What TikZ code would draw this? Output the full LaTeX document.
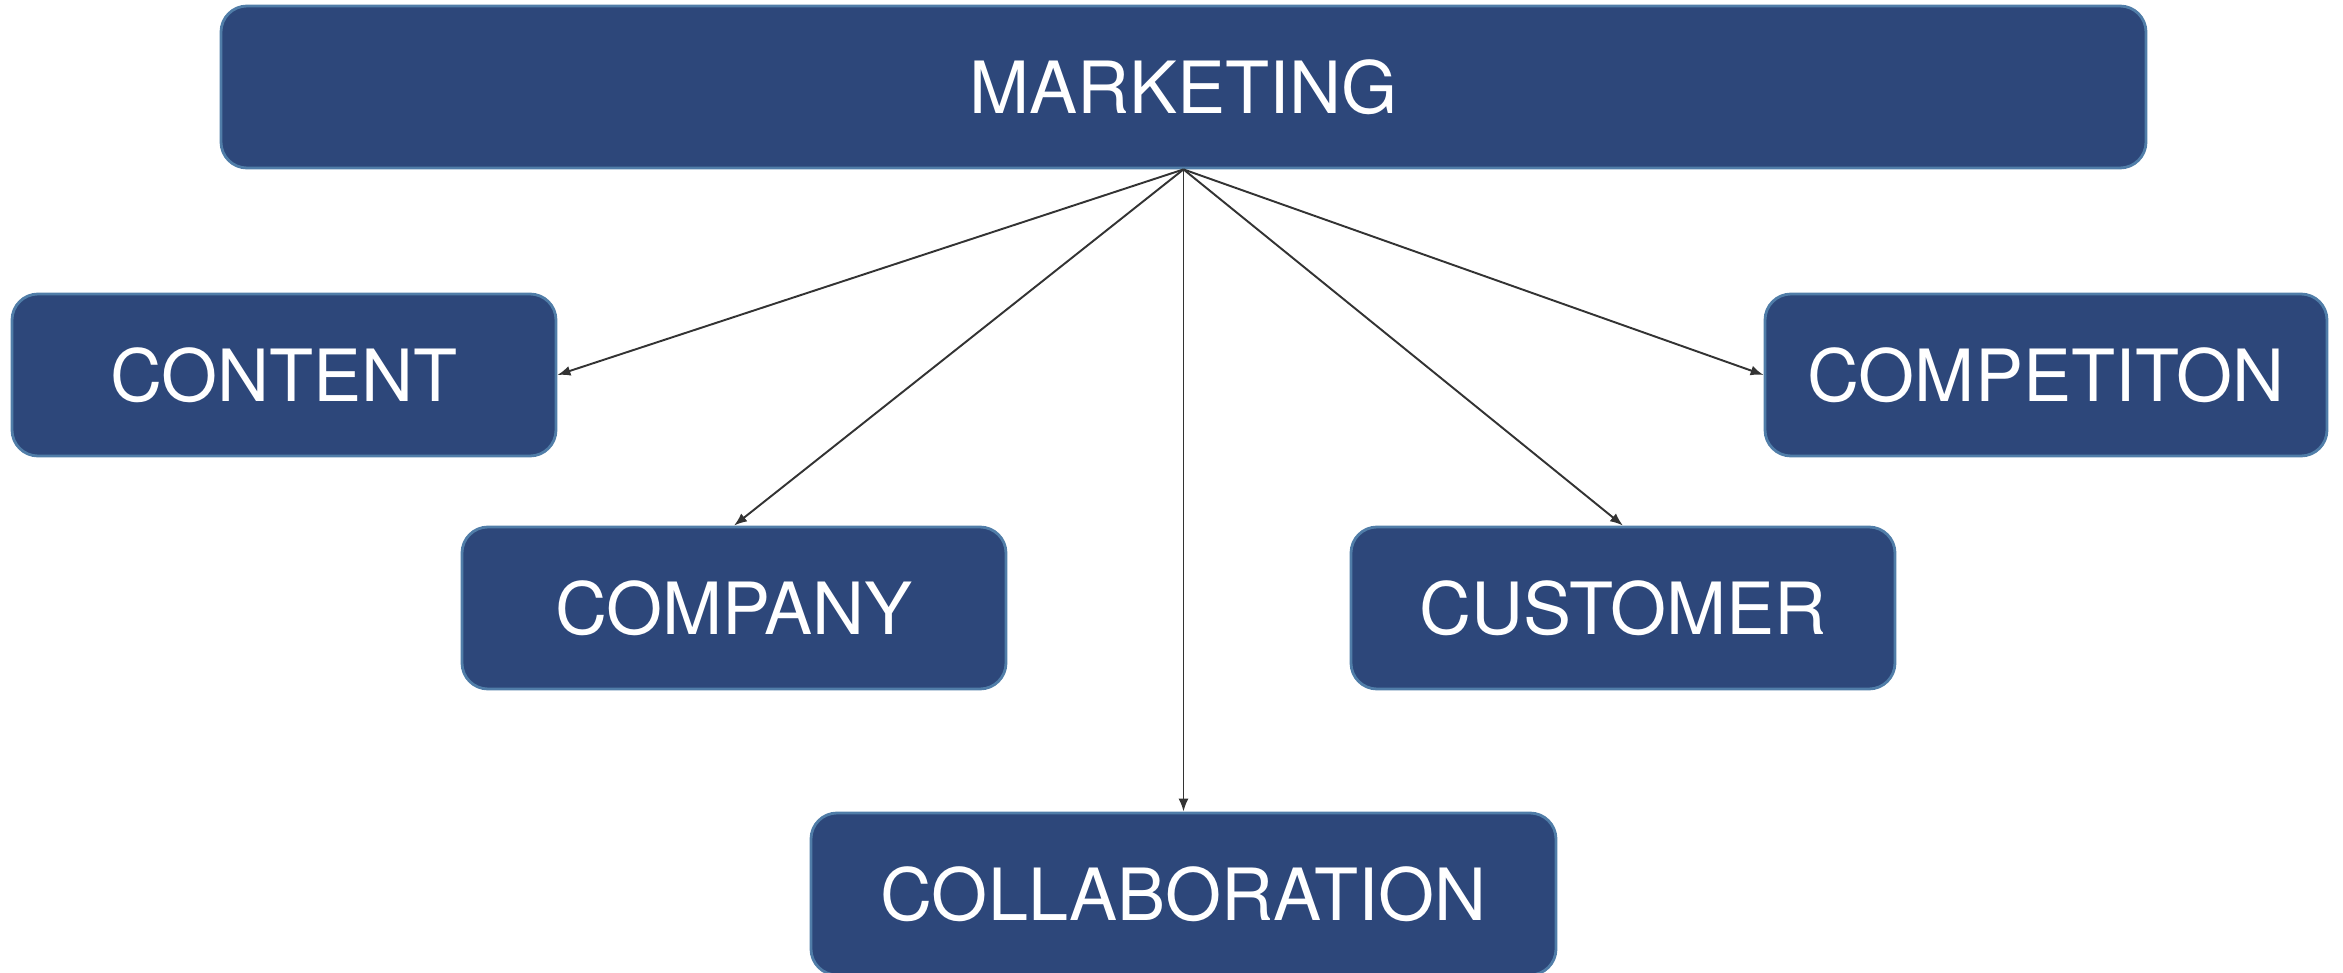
\documentclass[tikz,border=0pt]{standalone}
\usepackage{fontspec}
\setmainfont{TeX Gyre Heros}
\usepackage{tikz}
\usetikzlibrary{arrows.meta}
\definecolor{boxblue}{RGB}{45,71,122}
\definecolor{edgeblue}{RGB}{80,125,168}
\definecolor{arrowgray}{RGB}{51,51,51}

\begin{document}
\begin{tikzpicture}[
		topic/.style={draw=edgeblue, line width=0.8pt, fill=boxblue, rounded corners=2.6mm,
			text=white, inner sep=0pt, minimum height=1.62cm,
			font=\fontsize{20.5}{24}\selectfont},
		link/.style={arrowgray, line width=0.55pt, -{Latex[length=1.3mm,width=1mm]}}
	]
	\def\rowa{-0.87}
	\def\rowb{-3.75}
	\def\rowc{-6.08}
	\def\rowd{-8.94}

	\useasboundingbox (0,0) rectangle (23.43,-9.73);

	\node[topic, minimum width=19.25cm] (marketing) at (11.835,\rowa) {MARKETING};

	\node[topic, minimum width=5.44cm] (content) at (2.84,\rowb) {CONTENT};
	\node[topic, minimum width=5.62cm] (competiton) at (20.46,\rowb) {COMPETITON};

	\node[topic, minimum width=5.44cm] (company) at (7.34,\rowc) {COMPANY};
	\node[topic, minimum width=5.44cm] (customer) at (16.23,\rowc) {CUSTOMER};

	\node[topic, minimum width=7.45cm] (collaboration) at (11.835,\rowd) {COLLABORATION};

	\draw[link] (marketing.south) -- (content.east);
	\draw[link] (marketing.south) -- (company.north);
	\draw[link] (marketing.south) -- (collaboration.north);
	\draw[link] (marketing.south) -- (customer.north);
	\draw[link] (marketing.south) -- (competiton.west);
\end{tikzpicture}
\end{document}
